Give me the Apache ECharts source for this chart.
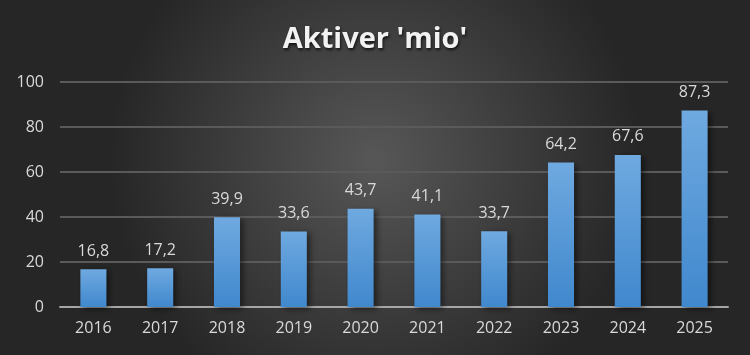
<!DOCTYPE html>
<html><head><meta charset="utf-8">
<script src="https://cdn.jsdelivr.net/npm/echarts@6/dist/echarts.min.js"></script>
<style>html,body{margin:0;padding:0;background:#333}#c{width:750px;height:355px}</style>
</head><body><div id="c"></div>
<script>
const categories = ['2016','2017','2018','2019','2020','2021','2022','2023','2024','2025'];
const values = [16.8, 17.2, 39.9, 33.6, 43.7, 41.1, 33.7, 64.2, 67.6, 87.3];
const yTicks = [0, 20, 40, 60, 80, 100];
const title = "Aktiver 'mio'";
const chart = echarts.init(document.getElementById('c'), null, {renderer:'canvas'});
const font = "'Open Sans', 'Noto Sans', sans-serif";
chart.setOption({
  animation:false,
  backgroundColor:{type:'radial', x:0.5, y:0.45, r:0.75, colorStops:[{offset:0,color:'#575757'},{offset:1,color:'#262626'}]},
  title:{text:title, left:'center', top:20, textStyle:{color:'#f2f2f2', fontSize:29, fontWeight:'bold', fontFamily:font, textShadowColor:'rgba(0,0,0,0.7)', textShadowBlur:3, textShadowOffsetX:1, textShadowOffsetY:2}},
  grid:{left:60, right:22, top:82, bottom:48, containLabel:false},
  xAxis:{type:'category', data:categories, axisTick:{show:false},
    axisLine:{lineStyle:{color:'#a6a6a6', width:2}},
    axisLabel:{color:'#d9d9d9', fontSize:16, fontFamily:font, margin:13}},
  yAxis:{type:'value', min:yTicks[0], max:yTicks[yTicks.length-1], interval:20,
    axisLine:{show:false}, axisTick:{show:false},
    splitLine:{lineStyle:{color:'#5a5a5a', width:2}},
    axisLabel:{color:'#d9d9d9', fontSize:16, fontFamily:font, margin:16}},
  series:[{type:'bar', data:values, barWidth:'39%',
    itemStyle:{color:{type:'linear',x:0,y:0,x2:0,y2:1,colorStops:[{offset:0,color:'#6fa9e0'},{offset:1,color:'#4088cd'}]},
      shadowColor:'rgba(0,0,0,0.5)', shadowBlur:6, shadowOffsetX:3, shadowOffsetY:2},
    label:{show:true, position:'top', distance:10, color:'#d9d9d9', fontSize:16, fontFamily:font,
      formatter:p=>String(p.value).replace('.',',')}}]
});
</script></body></html>
